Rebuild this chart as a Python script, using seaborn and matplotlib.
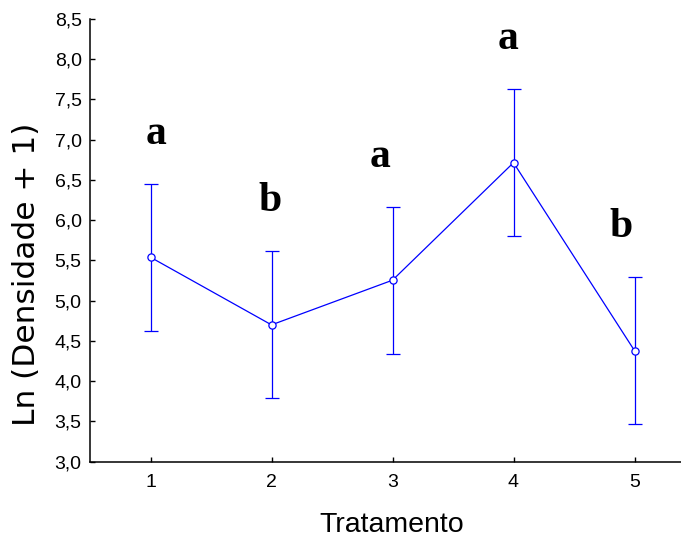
import numpy as np
import pandas as pd
import matplotlib
matplotlib.use("Agg")
import matplotlib.pyplot as plt
from matplotlib.ticker import FuncFormatter, MultipleLocator
import seaborn as sns

# ---- data ----
tratamento = [1, 2, 3, 4, 5]
media = [5.54, 4.70, 5.255, 6.715, 4.38]
erro = [0.912, 0.912, 0.912, 0.912, 0.912]
letras = ["a", "b", "a", "a", "b"]
x_ticks = [1, 2, 3, 4, 5]

# annotation placement (offsets from the upper end of each error bar)
letra_dx = [0.044, -0.014, -0.105, -0.047, -0.107]
letra_dy = 0.50

df = pd.DataFrame({"Tratamento": tratamento, "Media": media, "Erro": erro})

sns.set_theme(style="white")
plt.rcParams["font.family"] = ["Liberation Sans", "DejaVu Sans"]

W, H = 681, 538
fig = plt.figure(figsize=(W / 100, H / 100), dpi=100)
ax = fig.add_axes([90 / W, (H - 461.7) / H, 605 / W, 442.7 / H])

blue = "#0000FF"
ax.errorbar(df["Tratamento"], df["Media"], yerr=df["Erro"], fmt="none",
            ecolor=blue, elinewidth=0.9, capsize=4.8, capthick=0.9, zorder=2)
sns.lineplot(data=df, x="Tratamento", y="Media", ax=ax, color=blue,
             linewidth=0.9, marker="o", markersize=5.2,
             markerfacecolor="white", markeredgecolor=blue,
             markeredgewidth=0.9, zorder=3)

for xi, yi, ei, lt, dx in zip(tratamento, media, erro, letras, letra_dx):
    ax.text(xi + dx, yi + ei + letra_dy, lt, ha="center", va="baseline",
            fontsize=30, fontweight="bold",
            family=["Liberation Serif", "DejaVu Serif"], color="black")

ax.set_xlim(0.5, 5.5)
ax.set_ylim(3.0, 8.5)
ax.set_xticks(x_ticks)
ax.yaxis.set_major_locator(MultipleLocator(0.5))
ax.yaxis.set_major_formatter(FuncFormatter(lambda v, p: f"{v:.1f}".replace(".", ",")))

for s in ["top", "right"]:
    ax.spines[s].set_visible(False)
for s in ["left", "bottom"]:
    ax.spines[s].set_color("black")
    ax.spines[s].set_linewidth(1.1)

ax.tick_params(axis="both", direction="in", length=3.5, width=1.0,
               colors="black", labelsize=14, left=True, bottom=True)
ax.tick_params(axis="y", pad=6)
ax.tick_params(axis="x", pad=9)
ax.set_xlabel("")
ax.set_ylabel("")

fig.text(391.5 / W, (H - 531.7) / H, "Tratamento", ha="center", va="baseline",
         fontsize=20.5, color="black")
fig.text(27 / W, (H - 274.5) / H, "Ln (Densidade + 1)", rotation=90,
         ha="center", va="center", fontsize=22.5, color="black",
         family=["DejaVu Sans"])

fig.savefig("out.png", dpi=100)
